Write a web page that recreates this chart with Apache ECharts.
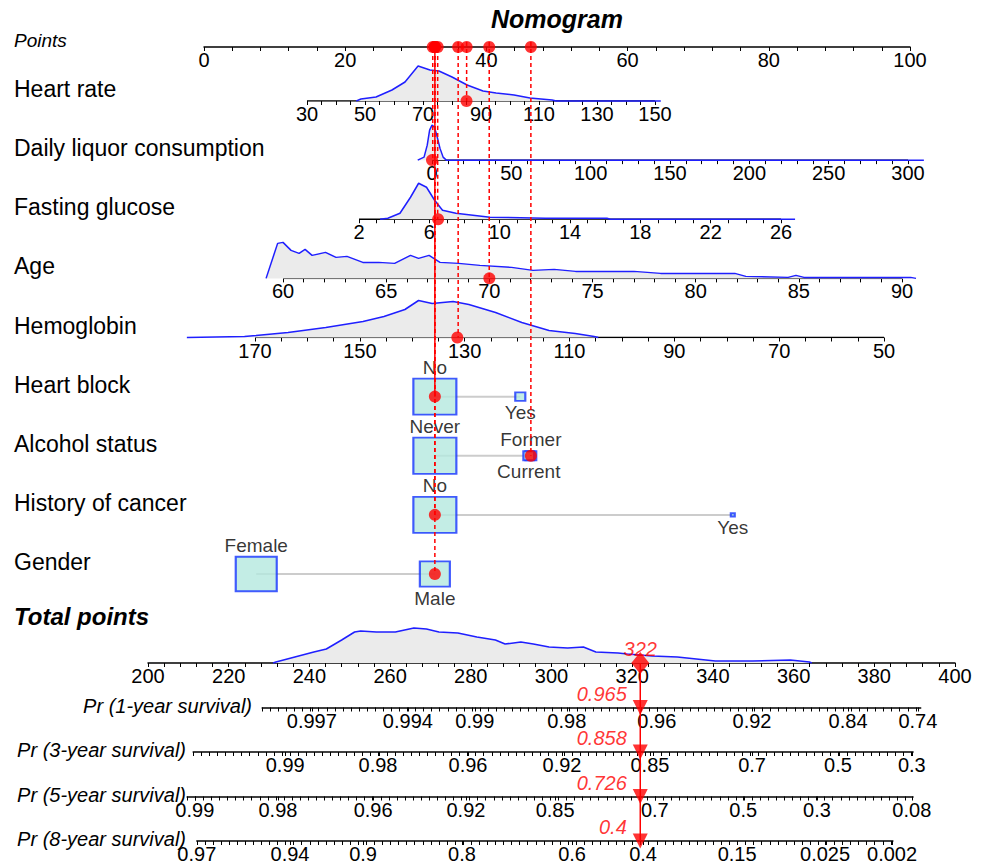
<!DOCTYPE html>
<html>
<head>
<meta charset="utf-8">
<title>Nomogram</title>
<script src="https://cdn.jsdelivr.net/npm/echarts@6/dist/echarts.min.js"></script>
<style>
  html, body { margin: 0; padding: 0; background: #fff; }
  #chart { width: 984px; height: 866px; }
</style>
</head>
<body>
<div id="chart"></div>
<script>
// ---- values ----
const pointTicks = [0, 20, 40, 60, 80, 100];
const hrTicks = [30, 50, 70, 90, 110, 130, 150];
const liquorTicks = [0, 50, 100, 150, 200, 250, 300];
const glucoseTicks = [2, 6, 10, 14, 18, 22, 26];
const ageTicks = [60, 65, 70, 75, 80, 85, 90];
const hgbTicks = [170, 150, 130, 110, 90, 70, 50];
const totalTicks = [200, 220, 240, 260, 280, 300, 320, 340, 360, 380, 400];

// density curves: [value, relative height]
const hrDensity = [[47, 0], [48.6, 2], [53.8, 4], [59.3, 11], [63.8, 19], [68.3, 35], [72.4, 31], [75.5, 30],
  [80, 24], [85.2, 16], [90.7, 10], [95.2, 8], [101.4, 6], [106.9, 3], [114.5, 1], [116, 0], [152, 0]];
const liquorDensity = [[-9, 0], [-5, 3], [-3, 15], [-1.5, 30], [0, 35], [1.5, 33], [3, 25], [5, 12], [7, 3],
  [9, 0], [310, 0]];
const glucoseDensity = [[3.2, 0], [3.64, 1], [4.33, 6], [4.93, 22], [5.39, 36], [5.84, 32], [6.3, 19], [6.75, 9],
  [7.51, 6], [9.45, 2], [12.6, 1], [16.1, 1], [16.3, 0], [26.8, 0]];
const ageDensity = [[59.18, 0], [59.74, 35], [60, 36], [60.39, 28], [60.78, 25], [61.07, 29], [61.41, 23],
  [62.06, 26], [62.57, 21], [63.1, 22], [63.87, 16], [64.64, 16], [65.41, 15], [66.18, 23], [66.57, 20],
  [67.08, 23], [67.61, 16], [68.51, 15], [69.54, 13], [71.08, 11], [72.12, 8], [73.14, 9], [74.18, 7],
  [75.46, 7], [77.01, 7], [78.3, 5], [80.36, 5], [81.9, 5], [82.43, 2], [84.48, 1], [84.86, 3], [85.25, 1],
  [90.42, 1], [90.68, 0]];
const hgbDensity = [[183, 0], [172, 1], [169.8, 2], [163.7, 5], [156.5, 10], [149.4, 16], [145.4, 21],
  [141.4, 28], [138.8, 37], [136.2, 34], [132.2, 36], [129.2, 33], [124.1, 25], [119.1, 15], [113.9, 7],
  [108.9, 4], [105.3, 1], [104.5, 0]];
const totalDensity = [[231, 0], [231.7, 1], [236.4, 6], [241.1, 11], [244.2, 14], [248, 23], [251.2, 31],
  [252.7, 32], [256.6, 31], [261.3, 31], [265.9, 35], [269, 34], [272.1, 31], [276.8, 30], [281.5, 26],
  [286.1, 23], [288.5, 19], [292.4, 21], [295.5, 19], [299.4, 16], [304, 15], [307.9, 16], [311, 11],
  [316.5, 10], [318.8, 9], [325, 7], [331.2, 6], [340.6, 2], [349.9, 2], [359.2, 3], [363.9, 1], [364.5, 0]];

// categorical variables: level, points, relative frequency
const hbLevels = ['No', 'Yes'];
const hbPoints = [32.7, 44.8];
const hbFreq = [0.955, 0.052];
const alcLevels = ['Never', 'Former', 'Current'];
const alcPoints = [32.7, 46.3, 46.0];
const alcFreq = [0.955, 0.06, 0.06];
const cancerLevels = ['No', 'Yes'];
const cancerPoints = [32.7, 74.9];
const cancerFreq = [0.955, 0.008];
const genderLevels = ['Female', 'Male'];
const genderPoints = [7.4, 32.7];
const genderFreq = [0.868, 0.465];

// the patient shown
const selValues = [85, 0, 6.5, 70, 131.4];
const selLevels = ['No', 'Former', 'No', 'Male'];
const selPoints = [37.2, 32.4, 33.1, 40.4, 36.0, 32.7, 46.3, 32.7, 32.7];
const totalScore = 322;
const survProb = ['0.965', '0.858', '0.726', '0.4'];

// survival scales: label and its total-points position
const surv1Labels = ['0.997', '0.994', '0.99', '0.98', '0.96', '0.92', '0.84', '0.74'];
const surv1Pos = [240.6, 264.4, 281.0, 303.8, 326.1, 349.7, 373.5, 390.8];
const surv1Range = [228.3, 391.5];
const surv3Labels = ['0.99', '0.98', '0.96', '0.92', '0.85', '0.7', '0.5', '0.3'];
const surv3Pos = [234.0, 257.0, 279.3, 302.6, 324.4, 349.7, 371.0, 389.3];
const surv3Range = [211.2, 389.6];
const surv5Labels = ['0.99', '0.98', '0.96', '0.92', '0.85', '0.7', '0.5', '0.3', '0.08'];
const surv5Pos = [211.6, 232.2, 255.8, 278.8, 300.9, 325.6, 347.5, 365.8, 389.3];
const surv5Range = [209.7, 389.6];
const surv8Labels = ['0.97', '0.94', '0.9', '0.8', '0.6', '0.4', '0.15', '0.025', '0.002'];
const surv8Pos = [212.1, 235.2, 253.3, 277.8, 305.1, 322.7, 346.0, 367.8, 384.4];
const surv8Range = [212.1, 384.6];

// ---- layout ----
const PTS_L = 204, PTS_R = 910;   // pixel x of 0 / 100 points
const TOT_L = 148, TOT_R = 955;   // pixel x of 200 / 400 total points
const PTS_Y = 47;
const ROW0 = 101, ROW_GAP = 59.125;
const TOT_Y = 663, SURV_GAP = 44.5;
const DENS_H = 40;
const FONT = '"Liberation Sans", Arial, sans-serif';
const INK = '#000000', RED = '#ff0000', BLUE = '#1f1fff';

const totPx = v => TOT_L + (v - 200) / 200 * (TOT_R - TOT_L);
function ticksBetween(a, b, step) {
  const out = [];
  for (let v = a; v <= b + 1e-9; v += step) out.push(+v.toFixed(4));
  return out;
}

const grids = [], xAxes = [], yAxes = [], series = [], texts = [];

function addGrid(left, right, top, height, x, y) {
  const i = grids.length;
  grids.push({ left: left, width: right - left, top: top, height: height });
  xAxes.push(Object.assign({ gridIndex: i, type: 'value', splitLine: { show: false } }, x));
  yAxes.push(Object.assign({ gridIndex: i, type: 'value', show: false, min: 0, max: DENS_H }, y || {}));
  return i;
}

function axisStyle(labels, ticks, formatter, showLine) {
  return {
    axisLine: { show: showLine !== false, onZero: false, lineStyle: { color: INK, width: 1.5 } },
    axisTick: { show: true, customValues: ticks, length: 4, lineStyle: { color: INK, width: 1 } },
    axisLabel: {
      show: true, customValues: labels, margin: 3, fontSize: 20, color: INK, fontFamily: FONT,
      showMinLabel: true, showMaxLabel: true, formatter: formatter
    }
  };
}

function addText(text, x, y, font, align, color) {
  texts.push({
    type: 'text', x: x, y: y, silent: true,
    style: { text: text, font: font, fill: color || INK, textAlign: align || 'left', textVerticalAlign: 'middle' }
  });
}

function redDot(g, data) {
  series.push({
    type: 'scatter', xAxisIndex: g, yAxisIndex: g, data: data, symbolSize: 12, clip: false,
    itemStyle: { color: RED }, z: 6, silent: true
  });
}

function density(g, data) {
  series.push({
    type: 'line', xAxisIndex: g, yAxisIndex: g, data: data, symbol: 'none', clip: false,
    lineStyle: { color: BLUE, width: 1.5 }, areaStyle: { color: '#ebebeb', opacity: 1 }, z: 2, silent: true
  });
}

// title + points scale
addText('Nomogram', (PTS_L + PTS_R) / 2, 19, 'italic bold 25px ' + FONT, 'center');
addText('Points', 14, 40, 'italic 19px ' + FONT);
const gPts = addGrid(PTS_L, PTS_R, PTS_Y - DENS_H, DENS_H,
  Object.assign({ min: 0, max: 100 }, axisStyle(pointTicks, ticksBetween(0, 100, 4))));
redDot(gPts, selPoints.map(p => [p, 0]));

// continuous variables; the grid is widened so the density tails fit, the axis line
// itself is drawn only over the labelled range
const contRows = [
  { name: 'Heart rate', min: 30, max: 150, px: [307, 655], labels: hrTicks, step: 5, dens: hrDensity },
  { name: 'Daily liquor consumption', min: 0, max: 300, px: [432, 908], labels: liquorTicks, step: 10, dens: liquorDensity },
  { name: 'Fasting glucose', min: 2, max: 26, px: [359, 781], labels: glucoseTicks, step: 1, dens: glucoseDensity },
  { name: 'Age', min: 60, max: 90, px: [283, 902], labels: ageTicks, step: 1, dens: ageDensity },
  { name: 'Hemoglobin', min: 50, max: 170, px: [255, 884], labels: hgbTicks, step: 5, dens: hgbDensity, inverse: true }
];
contRows.forEach((r, i) => {
  const y = ROW0 + i * ROW_GAP;
  addText(r.name, 14, y - 12, '23px ' + FONT);
  const xs = r.dens.map(d => d[0]);
  const lo = Math.min(r.min, Math.min.apply(null, xs));
  const hi = Math.max(r.max, Math.max.apply(null, xs));
  const k = (r.px[1] - r.px[0]) / (r.max - r.min);
  const left = r.inverse ? r.px[0] - (hi - r.max) * k : r.px[0] - (r.min - lo) * k;
  const right = r.inverse ? r.px[1] + (r.min - lo) * k : r.px[1] + (hi - r.max) * k;
  const g = addGrid(left, right, y - DENS_H, DENS_H,
    Object.assign({ min: lo, max: hi, inverse: !!r.inverse },
      axisStyle(r.labels, ticksBetween(r.min, r.max, r.step), null, false)));
  series.push({
    type: 'line', xAxisIndex: g, yAxisIndex: g, data: [[r.min, 0], [r.max, 0]], symbol: 'none',
    lineStyle: { color: INK, width: 1.5 }, z: 1, silent: true
  });
  density(g, r.dens);
  redDot(g, [[selValues[i], 0]]);
});

// categorical variables
const catRows = [
  { name: 'Heart block', levels: hbLevels, pts: hbPoints, freq: hbFreq, pos: ['top', 'bottom'] },
  { name: 'Alcohol status', levels: alcLevels, pts: alcPoints, freq: alcFreq, pos: ['top', 'top', 'bottom'] },
  { name: 'History of cancer', levels: cancerLevels, pts: cancerPoints, freq: cancerFreq, pos: ['top', 'bottom'] },
  { name: 'Gender', levels: genderLevels, pts: genderPoints, freq: genderFreq, pos: ['top', 'bottom'] }
];
catRows.forEach((r, j) => {
  const y = ROW0 + (contRows.length + j) * ROW_GAP;
  addText(r.name, 14, y - 12, '23px ' + FONT);
  const g = addGrid(PTS_L, PTS_R, y - 30, 60, { min: 0, max: 100, show: false }, { min: -1, max: 1 });
  const lo = Math.min.apply(null, r.pts), hi = Math.max.apply(null, r.pts);
  series.push({
    type: 'line', xAxisIndex: g, yAxisIndex: g, data: [[lo, 0], [hi, 0]], symbol: 'none',
    lineStyle: { color: '#cccccc', width: 2 }, z: 1, silent: true
  });
  series.push({
    type: 'scatter', xAxisIndex: g, yAxisIndex: g, symbol: 'rect', clip: false, z: 3, silent: true,
    data: r.levels.map((lv, k) => {
      const w = 44 * Math.sqrt(r.freq[k]);
      return {
        value: [r.pts[k], 0], symbolSize: [w, w * 0.84],
        label: { show: true, position: r.pos[k], distance: 1, formatter: lv, color: INK }
      };
    }),
    itemStyle: { color: '#b4e8df', borderColor: '#1533ff', borderWidth: 2 },
    label: { color: INK, fontSize: 19, fontFamily: FONT }
  });
  const k = r.levels.indexOf(selLevels[j]);
  redDot(g, [[r.pts[k], 0]]);
});

// red guide lines from each variable up to the points scale
const gLines = addGrid(PTS_L, PTS_R, ROW0, 8 * ROW_GAP, { min: 0, max: 100, show: false },
  { min: 0, max: 8, inverse: true });
selPoints.forEach((p, i) => {
  series.push({
    type: 'line', xAxisIndex: gLines, yAxisIndex: gLines, data: [[p, -1], [p, i]], symbol: 'none', clip: false,
    lineStyle: { color: RED, width: 1.5, type: i === 5 ? 'solid' : [4, 3] }, z: 4, silent: true
  });
});

// total points
addText('Total points', 14, 616, 'italic bold 24px ' + FONT);
const gTot = addGrid(TOT_L, TOT_R, TOT_Y - DENS_H, DENS_H,
  Object.assign({ min: 200, max: 400 }, axisStyle(totalTicks, ticksBetween(200, 400, 4))));
density(gTot, totalDensity);
series.push({
  type: 'scatter', xAxisIndex: gTot, yAxisIndex: gTot, data: [[totalScore, 0]], symbol: 'diamond',
  symbolSize: [18, 22], clip: false, z: 6, silent: true, itemStyle: { color: RED },
  label: { show: true, position: 'top', distance: -7, formatter: String(totalScore), color: RED,
    fontStyle: 'italic', fontSize: 20, fontFamily: FONT }
});

// survival scales
const survRows = [
  { name: 'Pr (1-year survival)', labels: surv1Labels, pos: surv1Pos, range: surv1Range, titleRight: 252 },
  { name: 'Pr (3-year survival)', labels: surv3Labels, pos: surv3Pos, range: surv3Range, titleRight: 186 },
  { name: 'Pr (5-year survival)', labels: surv5Labels, pos: surv5Pos, range: surv5Range, titleRight: 186 },
  { name: 'Pr (8-year survival)', labels: surv8Labels, pos: surv8Pos, range: surv8Range, titleRight: 186 }
];
survRows.forEach((r, k) => {
  const y = TOT_Y + (k + 1) * SURV_GAP;
  addText(r.name, r.titleRight, y - 2, 'italic 20px ' + FONT, 'right');
  const fmt = v => {
    let best = 0;
    r.pos.forEach((p, i) => { if (Math.abs(p - v) < Math.abs(r.pos[best] - v)) best = i; });
    return r.labels[best];
  };
  const ticks = r.pos.concat(ticksBetween(r.range[0], r.range[1], 2));
  addGrid(totPx(r.range[0]), totPx(r.range[1]), y - 20, 20,
    Object.assign({ min: r.range[0], max: r.range[1] }, axisStyle(r.pos, ticks, fmt)));
});

// prediction line with arrows
const gArrow = addGrid(TOT_L, TOT_R, TOT_Y, 4 * SURV_GAP, { min: 200, max: 400, show: false },
  { min: 0, max: 4, inverse: true });
series.push({
  type: 'line', xAxisIndex: gArrow, yAxisIndex: gArrow, data: [[totalScore, 0], [totalScore, 4]],
  symbol: 'none', clip: false, lineStyle: { color: RED, width: 1.5 }, z: 5, silent: true
});
series.push({
  type: 'scatter', xAxisIndex: gArrow, yAxisIndex: gArrow, symbol: 'triangle', symbolRotate: 180,
  symbolSize: [15, 15], clip: false, z: 6, silent: true, itemStyle: { color: RED },
  data: survProb.map((p, k) => ({ value: [totalScore, k + 1], label: { formatter: p } })),
  label: { show: true, position: 'left', distance: 6, offset: [0, -14], color: RED,
    fontStyle: 'italic', fontSize: 20, fontFamily: FONT }
});

const chart = echarts.init(document.getElementById('chart'), null, { renderer: 'svg' });
chart.setOption({
  animation: false,
  backgroundColor: '#fff',
  textStyle: { fontFamily: FONT },
  grid: grids,
  xAxis: xAxes,
  yAxis: yAxes,
  series: series,
  graphic: { elements: texts }
});
</script>
</body>
</html>
